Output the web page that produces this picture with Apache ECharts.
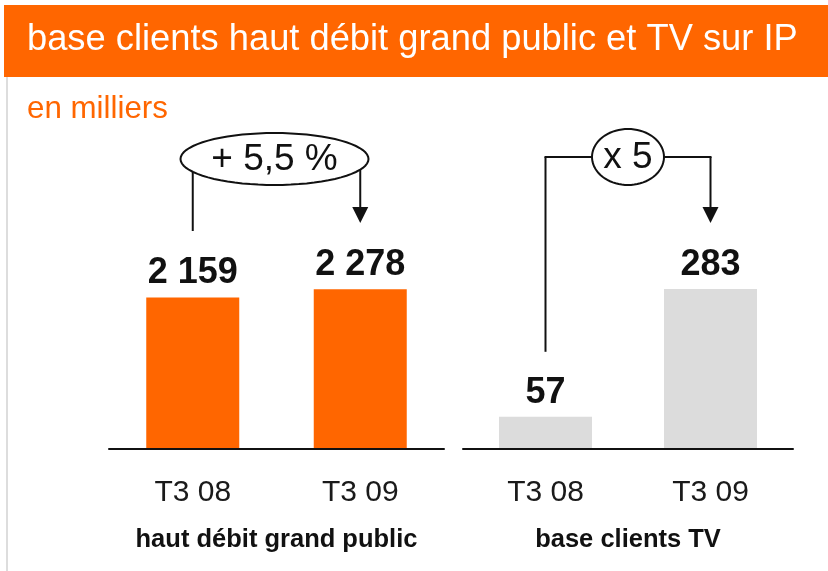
<!DOCTYPE html>
<html>
<head>
<meta charset="utf-8">
<script src="https://cdn.jsdelivr.net/npm/echarts@6/dist/echarts.min.js"></script>
<style>
  html, body { margin: 0; padding: 0; background: #fff; }
  #main { width: 828px; height: 571px; }
</style>
</head>
<body>
<div id="main"></div>
<script>
var categories = ['T3 08', 'T3 09'];
var broadbandValues = [2159, 2278];
var tvValues = [57, 283];
var panelNames = ['haut débit grand public', 'base clients TV'];
var growthLabels = ['+ 5,5 %', 'x 5'];

var FONT = '"Liberation Sans", Arial, Helvetica, sans-serif';

// 2159 -> "2 159"
function fmt(v) {
    return String(v).replace(/\B(?=(\d{3})+(?!\d))/g, ' ');
}

function xAxisFor(i) {
    return {
        type: 'category',
        gridIndex: i,
        data: categories,
        z: 5,
        axisLine: { lineStyle: { color: '#111', width: 2 } },
        axisTick: { show: false },
        axisLabel: { fontSize: 30, color: '#1a1a1a', margin: 29, fontFamily: FONT },
        name: panelNames[i],
        nameLocation: 'middle',
        nameGap: 78,
        nameTextStyle: { fontSize: 25.5, fontWeight: 'bold', color: '#111', fontFamily: FONT }
    };
}

function barSeries(i, values, color) {
    return {
        type: 'bar',
        xAxisIndex: i,
        yAxisIndex: i,
        data: values,
        barWidth: 93,
        itemStyle: { color: color },
        label: {
            show: true,
            position: 'top',
            distance: 6,
            formatter: function (p) { return fmt(p.value); },
            fontSize: 36,
            fontWeight: 'bold',
            color: '#111',
            fontFamily: FONT
        }
    };
}

var chart = echarts.init(document.getElementById('main'));

chart.setOption({
    animation: false,
    title: [{
        text: 'base clients haut débit grand public et TV sur IP',
        left: 27,
        top: 22,
        padding: 0,
        textStyle: { color: '#fff', fontSize: 36.3, fontWeight: 'normal', fontFamily: FONT }
    }, {
        text: 'en milliers',
        left: 27,
        top: 94,
        padding: 0,
        textStyle: { color: '#FF6600', fontSize: 31.3, fontWeight: 'normal', fontFamily: FONT }
    }],
    grid: [
        { left: 109, width: 335, top: 249, height: 200 },
        { left: 463, width: 330, top: 249, height: 200 }
    ],
    xAxis: [xAxisFor(0), xAxisFor(1)],
    yAxis: [
        { type: 'value', gridIndex: 0, min: 0, max: 2850, show: false },
        { type: 'value', gridIndex: 1, min: 0, max: 354, show: false }
    ],
    series: [
        barSeries(0, broadbandValues, '#FF6600'),
        barSeries(1, tvValues, '#DCDCDC')
    ]
});

// annotations, placed from the bar positions
function px(grid, cat, val) {
    return chart.convertToPixel({ gridIndex: grid }, [cat, val]);
}

function ellipse(cx, cy, rx, ry) {
    var pts = [];
    for (var k = 0; k < 72; k++) {
        var a = k / 72 * Math.PI * 2;
        pts.push([cx + rx * Math.cos(a), cy + ry * Math.sin(a)]);
    }
    return {
        type: 'polygon', z: 10,
        shape: { points: pts },
        style: { fill: '#fff', stroke: '#111', lineWidth: 2 }
    };
}

function seg(x1, y1, x2, y2) {
    return {
        type: 'line', z: 9,
        shape: { x1: x1, y1: y1, x2: x2, y2: y2 },
        style: { stroke: '#111', lineWidth: 2 }
    };
}

function head(x, tipY) {
    return {
        type: 'polygon', z: 9,
        shape: { points: [[x - 8, tipY - 16], [x + 8, tipY - 16], [x, tipY]] },
        style: { fill: '#111' }
    };
}

function label(x, y, txt) {
    return {
        type: 'text', z: 11,
        x: x, y: y,
        style: {
            text: txt, fill: '#111', fontSize: 37, fontFamily: FONT,
            align: 'center', verticalAlign: 'middle'
        }
    };
}

var l0 = px(0, categories[0], broadbandValues[0]);
var l1 = px(0, categories[1], broadbandValues[1]);
var r0 = px(1, categories[0], tvValues[0]);
var r1 = px(1, categories[1], tvValues[1]);

var tipY = 223;

// left panel: ellipse with legs into it
var lcx = (l0[0] + l1[0]) / 2 - 2, lcy = 159, lrx = 94, lry = 26;
function ellBottom(cx, cy, rx, ry, x) {
    var d = (x - cx) / rx;
    return cy + ry * Math.sqrt(Math.max(0, 1 - d * d)) - 4;
}

// right panel: bracket through the small ellipse
var rcx = (r0[0] + r1[0]) / 2, rcy = 157, rrx = 36, rry = 28;

chart.setOption({
    graphic: [
        { type: 'rect', z: 0, shape: { x: 4, y: 5, width: 824, height: 72 }, style: { fill: '#FF6600' } },
        { type: 'rect', z: 0, shape: { x: 6, y: 77, width: 2, height: 494 }, style: { fill: '#DDDDDD' } },

        seg(l0[0], ellBottom(lcx, lcy, lrx, lry, l0[0]), l0[0], 231),
        seg(l1[0], ellBottom(lcx, lcy, lrx, lry, l1[0]), l1[0], tipY - 14),
        head(l1[0], tipY),
        ellipse(lcx, lcy, lrx, lry),
        label(lcx, lcy + 1, growthLabels[0]),

        seg(r0[0], rcy, r0[0], r0[1] - 65),
        seg(r0[0] - 1, rcy, rcx - rrx, rcy),
        seg(rcx + rrx, rcy, r1[0] + 1, rcy),
        seg(r1[0], rcy, r1[0], tipY - 14),
        head(r1[0], tipY),
        ellipse(rcx, rcy, rrx, rry),
        label(rcx, rcy + 1, growthLabels[1])
    ]
});
</script>
</body>
</html>
